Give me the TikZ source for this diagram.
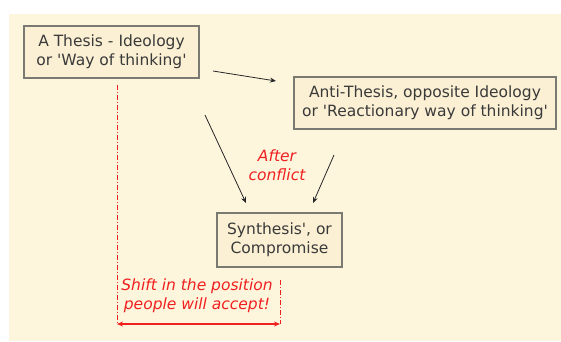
\documentclass[tikz,border=0pt]{standalone}
\usepackage{fontspec}
\setmainfont{DejaVu Sans}[Ligatures=TeXOff]
\usetikzlibrary{arrows.meta}
\definecolor{bgcream}{HTML}{FDF5DC}
\definecolor{boxfill}{HTML}{FBF0D4}
\definecolor{boxline}{HTML}{7A7A72}
\definecolor{txtgray}{HTML}{3A3A3A}
\definecolor{redline}{HTML}{F02020}
\tikzset{
  idea/.style={draw=boxline, line width=1.2pt, fill=boxfill, text=txtgray, align=center,
    font=\fontsize{15.5}{19}\selectfont, inner sep=0pt},
  flow/.style={draw=black!85, line width=0.8pt, -{Stealth[length=6pt,width=5pt]}},
  rednote/.style={text=redline, align=center, font=\fontsize{15.5}{19}\selectfont\itshape},
  reddash/.style={draw=redline, line width=0.7pt, dash pattern=on 5pt off 2pt on 1pt off 2pt},
  redarrow/.style={draw=redline, line width=1.4pt, {Stealth[length=6pt,width=5pt]}-{Stealth[length=6pt,width=5pt]}}
}
\begin{document}
\begin{tikzpicture}[x=1pt,y=-1pt]
\useasboundingbox (0,0) rectangle (561,341);
\fill[white] (0,0) rectangle (561,341);
\fill[bgcream] (9,14) rectangle (561,341);
\node[idea, minimum width=175pt, minimum height=52pt] (thesis) at (111.5,52) {A Thesis - Ideology\\or 'Way of thinking'};
\node[idea, minimum width=262pt, minimum height=52pt] (anti) at (425,103) {Anti-Thesis, opposite Ideology\\or 'Reactionary way of thinking'};
\node[idea, minimum width=125pt, minimum height=54pt] (synth) at (279.5,240) {Synthesis', or\\Compromise};
\coordinate (a1s) at (213,71);
\coordinate (a1e) at (276,81);
\coordinate (a2s) at (205,115);
\coordinate (a2e) at (246,203);
\coordinate (a3s) at (334,155);
\coordinate (a3e) at (313,203);
\draw[flow] (a1s) -- (a1e);
\draw[flow] (a2s) -- (a2e);
\draw[flow] (a3s) -- (a3e);
\node[rednote] (after) at (277,165) {After\\conflict};
\node[rednote] (shift) at (197,296) {Shift in the position\\people will accept!};
\coordinate (lt) at (117,85);
\coordinate (lb) at (117,324);
\coordinate (rt) at (280,280);
\coordinate (rb) at (280,324);
\draw[reddash] (lt) -- (lb);
\draw[reddash] (rt) -- (rb);
\draw[redarrow] (lb) -- (rb);
\end{tikzpicture}
\end{document}
